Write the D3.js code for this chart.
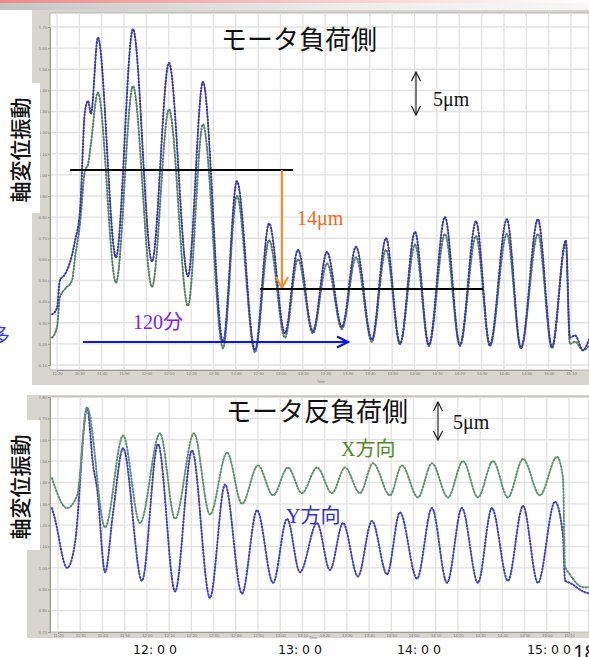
<!DOCTYPE html>
<html><head><meta charset="utf-8">
<script src="https://cdn.jsdelivr.net/npm/d3@7"></script>
<style>
html,body{margin:0;padding:0;background:#fff;overflow:hidden}
svg{display:block}
</style></head><body>
<svg id="c" width="589" height="657"></svg>
<script>
// ---------------- data ----------------
// x tick labels (10-minute steps)
const timeTickLabels = ["11:20","11:30","11:40","11:50","12:00","12:10","12:20","12:30","12:40","12:50",
  "13:00","13:10","13:20","13:30","13:40","13:50","14:00","14:10","14:20","14:30","14:40","14:50","15:00","15:10"];
const topYTickLabels = ["0.10","0.20","0.30","0.40","0.50","0.60","0.70","0.80","0.90","1.00","1.10","1.20","1.30","1.40","1.50","1.60","1.70"];
const botYTickLabels = ["0.70","0.80","0.90","1.00","1.10","1.20","1.30","1.40","1.50","1.60","1.70","1.80"];
const hourLabels = ["12: 0 0","13: 0 0","14: 0 0","15: 0 0"];

// upper panel (minutes after 11:00)
const topTime  = [17.8,20.0,21.3,23.6,26.7,28.1,30.3,32.5,33.9,35.2,38.3,46.4,54.0,62.5,70.1,78.6,85.3,94.3,100.5,108.6,
  114.9,122.0,127.8,134.5,140.8,147.5,153.8,160.9,167.2,173.5,180.2,186.4,193.6,200.3,207.5,213.7,221.3,227.6,235.2,241.5,
  247.7,249.5,251.8,255.4,258.0];
const topBlue  = [0.34,0.37,0.50,0.53,0.62,0.69,0.83,1.30,1.35,1.29,1.65,0.61,1.69,0.59,1.53,0.52,1.44,0.21,0.97,0.17,
  0.77,0.25,0.645,0.26,0.635,0.28,0.66,0.22,0.70,0.20,0.73,0.195,0.80,0.195,0.78,0.195,0.79,0.18,0.79,0.185,
  0.69,0.23,0.24,0.17,0.22];
const topGreen = [0.23,0.28,0.42,0.46,0.50,0.61,0.77,1.02,1.05,1.15,1.39,0.49,1.42,0.47,1.31,0.38,1.24,0.18,0.90,0.16,
  0.69,0.23,0.60,0.25,0.58,0.27,0.61,0.21,0.645,0.20,0.67,0.19,0.72,0.19,0.71,0.19,0.72,0.18,0.72,0.18,
  0.68,0.20,0.21,0.17,0.19];

// lower panel
const botXTime = [17.3,24.1,28.6,33.1,41.2,49.3,56.9,65.9,72.7,81.2,88.4,96.1,102.8,110.0,116.8,123.5,129.8,136.6,143.3,149.2,
  155.9,161.8,169.4,174.8,182.0,188.3,195.5,202.3,209.0,215.8,222.5,229.3,236.9,244.6,247.3,248.2,250.4,256.3,259.0];
const botX     = [1.42,1.28,1.34,1.75,1.19,1.62,1.21,1.63,1.23,1.63,1.25,1.54,1.30,1.48,1.34,1.47,1.35,1.47,1.35,1.47,
  1.35,1.49,1.34,1.48,1.33,1.49,1.33,1.50,1.33,1.50,1.33,1.51,1.34,1.52,1.42,1.01,0.97,0.91,0.91];
const botYTime = [17.3,18.6,24.1,27.7,33.1,35.8,37.6,41.2,44.8,49.3,57.8,65.0,72.7,80.3,88.4,95.2,102.8,109.6,116.8,123.1,
  128.9,136.6,142.4,148.3,155.0,161.3,168.1,173.9,181.6,188.3,195.1,201.8,209.0,215.3,222.5,229.3,236.0,243.7,247.3,248.2,
  250.4,256.3,259.0];
const botY     = [1.28,1.23,1.00,1.12,1.75,1.48,1.37,0.98,1.26,1.56,0.94,1.58,0.89,1.55,0.86,1.39,0.88,1.27,0.93,1.23,
  0.98,1.21,0.99,1.21,0.96,1.22,0.97,1.26,0.95,1.28,0.93,1.28,0.93,1.28,0.94,1.29,0.93,1.31,1.15,0.94,
  0.93,0.89,0.88];

// ---------------- drawing ----------------
const svg = d3.select("#c");
const toMin = s => { const [h,m] = s.split(":").map(Number); return (h-11)*60+m; };
const tickMins = timeTickLabels.map(toMin);
const JP = "'Noto Sans CJK JP','Noto Sans',sans-serif";
const SERIF = "'Liberation Serif','DejaVu Serif','Noto Sans CJK JP',serif";

const defs = svg.append("defs");
const g1 = defs.append("linearGradient").attr("id","bannerPink").attr("x1","0").attr("x2","1");
g1.append("stop").attr("offset","0").attr("stop-color","#f08a8a");
g1.append("stop").attr("offset","0.75").attr("stop-color","#fbe3e3");
g1.append("stop").attr("offset","1").attr("stop-color","#ffffff");
const g2 = defs.append("linearGradient").attr("id","bannerGray").attr("x1","0").attr("x2","1");
g2.append("stop").attr("offset","0").attr("stop-color","#c4c4c4");
g2.append("stop").attr("offset","0.55").attr("stop-color","#ececec");
g2.append("stop").attr("offset","1").attr("stop-color","#f7f7f7");

svg.append("rect").attr("x",0).attr("y",0).attr("width",589).attr("height",3).attr("fill","url(#bannerPink)");
svg.append("rect").attr("x",0).attr("y",3).attr("width",589).attr("height",7).attr("fill","url(#bannerGray)");

function panel(cfg){
  const {frameX, frameY, frameB, plot, x, y, yLabels, series, timeX, timeY} = cfg;
  svg.append("rect").attr("x",frameX).attr("y",frameY).attr("width",589-frameX).attr("height",frameB-frameY).attr("fill","#d8d5cf");
  svg.append("rect").attr("x",plot.l).attr("y",plot.t).attr("width",589-plot.l).attr("height",plot.b-plot.t)
     .attr("fill","#fff").attr("stroke","#a8a8a8").attr("stroke-width",0.8);
  const id = "clip"+plot.t;
  defs.append("clipPath").attr("id",id).append("rect").attr("x",plot.l).attr("y",plot.t).attr("width",589-plot.l).attr("height",plot.b-plot.t);
  const gg = svg.append("g").attr("clip-path",`url(#${id})`);
  gg.append("g").selectAll("line").data(tickMins).join("line")
    .attr("x1",d=>x(d)).attr("x2",d=>x(d)).attr("y1",plot.t).attr("y2",plot.b)
    .attr("stroke","#e2e2e2").attr("stroke-width",1.3);
  gg.append("g").selectAll("line").data(yLabels.map(Number)).join("line")
    .attr("x1",plot.l).attr("x2",589).attr("y1",d=>y(d)).attr("y2",d=>y(d))
    .attr("stroke","#e2e2e2").attr("stroke-width",1.3);
  series.forEach(s=>{
    const line = d3.line().x((d,i)=>x(s.t[i])).y(d=>y(d)).curve(d3.curveMonotoneX);
    gg.append("path").attr("d",line(s.v)).attr("fill","none").attr("stroke",s.c1).attr("stroke-width",1);
    gg.append("path").attr("d",line(s.v)).attr("fill","none").attr("stroke",s.c2).attr("stroke-width",2)
      .attr("stroke-dasharray","1,2.2").attr("stroke-linecap","round");
  });
  const ax = svg.append("g").attr("transform",`translate(0,${plot.b})`)
    .call(d3.axisBottom(x).tickValues(tickMins).tickFormat((d,i)=>timeTickLabels[i]).tickSize(1.5).tickPadding(0.5));
  ax.select(".domain").attr("stroke","#999");
  ax.selectAll("line").attr("stroke","#999");
  ax.selectAll("text").attr("font-size",4.2).attr("fill","#7a7a7a").attr("font-family","Arial, sans-serif");
  const ay = svg.append("g").attr("transform",`translate(${plot.l},0)`)
    .call(d3.axisLeft(y).tickValues(yLabels.map(Number)).tickFormat((d,i)=>yLabels[i]).tickSize(2).tickPadding(1));
  ay.select(".domain").attr("stroke","#999");
  ay.selectAll("line").attr("stroke","#999");
  ay.selectAll("text").attr("font-size",4.2).attr("fill","#7a7a7a").attr("font-family","Arial, sans-serif");
  svg.append("text").attr("x",timeX).attr("y",timeY).attr("font-size",3.6).attr("fill","#777").attr("font-family","Arial").text("Time");
}

const xTop = d3.scaleLinear().domain([20,250]).range([57,571]);
const yTop = d3.scaleLinear().domain([0.1,1.7]).range([365,27]);
const xBot = d3.scaleLinear().domain([20,250]).range([58,569]);
const yBot = d3.scaleLinear().domain([0.7,1.8]).range([632,397]);

panel({frameX:32, frameY:10, frameB:385, plot:{l:50,t:13,b:370}, x:xTop, y:yTop, yLabels:topYTickLabels, timeX:317, timeY:382.5,
  series:[
    {t:topTime, v:topGreen, c1:"#a3c4ae", c2:"#557f63"},
    {t:topTime, v:topBlue,  c1:"#9090d6", c2:"#3838a8"}
  ]});
panel({frameX:27, frameY:395, frameB:638, plot:{l:50,t:397,b:632}, x:xBot, y:yBot, yLabels:botYTickLabels, timeX:309, timeY:638.5,
  series:[
    {t:botYTime, v:botY, c1:"#9898de", c2:"#4040bc"},
    {t:botXTime, v:botX, c1:"#a6c8b2", c2:"#5e8f70"}
  ]});

// label boxes and vertical labels
svg.append("rect").attr("x",0).attr("y",83).attr("width",40).attr("height",130).attr("fill","#fff");
svg.append("rect").attr("x",0).attr("y",420).attr("width",40).attr("height",130).attr("fill","#fff");
svg.append("text").attr("transform","translate(28,150) rotate(-90)").attr("text-anchor","middle")
  .attr("font-family",JP).attr("font-size",21).attr("font-weight",500).attr("fill","#111").text("軸変位振動");
svg.append("text").attr("transform","translate(28,487) rotate(-90)").attr("text-anchor","middle")
  .attr("font-family",JP).attr("font-size",21).attr("font-weight",500).attr("fill","#111").text("軸変位振動");

// titles
svg.append("text").attr("x",221).attr("y",49).attr("font-family",JP).attr("font-size",26).attr("fill","#111").text("モータ負荷側");
svg.append("text").attr("x",226).attr("y",421).attr("font-family",JP).attr("font-size",26).attr("fill","#111").text("モータ反負荷側");

// double arrows + 5um
function dblArrow(xx,y1,y2){
  svg.append("line").attr("x1",xx).attr("x2",xx).attr("y1",y1).attr("y2",y2).attr("stroke","#111").attr("stroke-width",1.1);
  svg.append("path").attr("d",`M${xx-4.5},${y1+9}L${xx},${y1}L${xx+4.5},${y1+9}M${xx-4.5},${y2-9}L${xx},${y2}L${xx+4.5},${y2-9}`)
    .attr("fill","none").attr("stroke","#111").attr("stroke-width",1.1);
}
dblArrow(416,72,115);
svg.append("text").attr("x",433).attr("y",106).attr("font-family",SERIF).attr("font-size",20).attr("fill","#111").text("5μm");
dblArrow(438,402,440);
svg.append("text").attr("x",453).attr("y",429).attr("font-family",SERIF).attr("font-size",20).attr("fill","#111").text("5μm");

// upper annotations
svg.append("line").attr("x1",70).attr("x2",293).attr("y1",170).attr("y2",170).attr("stroke","#000").attr("stroke-width",2);
svg.append("line").attr("x1",282).attr("x2",282).attr("y1",170).attr("y2",288).attr("stroke","#f5921e").attr("stroke-width",2);
svg.append("path").attr("d","M276,277L282,288L288,277").attr("fill","none").attr("stroke","#f5921e").attr("stroke-width",2);
svg.append("line").attr("x1",260).attr("x2",483).attr("y1",289).attr("y2",289).attr("stroke","#000").attr("stroke-width",2);
svg.append("text").attr("x",297).attr("y",225).attr("font-family",SERIF).attr("font-size",20).attr("fill","#f26a1b").text("14μm");
svg.append("line").attr("x1",83).attr("x2",348).attr("y1",342).attr("y2",342).attr("stroke","#0a14f0").attr("stroke-width",2.2);
svg.append("path").attr("d","M337,336.5L348,342L337,347.5").attr("fill","none").attr("stroke","#0a14f0").attr("stroke-width",2.2);
svg.append("text").attr("x",133).attr("y",329).attr("font-family",SERIF).attr("font-size",20).attr("fill","#7b22ee").text("120分");
svg.append("text").attr("x",-10).attr("y",343).attr("font-family",JP).attr("font-size",20).attr("fill","#3b3bdc").text("多");

// lower annotations
svg.append("text").attr("x",341).attr("y",456).attr("font-family",SERIF).attr("font-size",20).attr("fill","#4f8a26").text("X方向");
svg.append("text").attr("x",286).attr("y",523).attr("font-family",SERIF).attr("font-size",20).attr("fill","#2b2be8").text("Y方向");

// hour labels
const hourX = [133,278,397,527];
svg.append("g").selectAll("text").data(hourLabels).join("text")
  .attr("x",(d,i)=>hourX[i]).attr("y",654).attr("font-family","'DejaVu Sans',sans-serif").attr("font-size",12.5).attr("fill","#111").text(d=>d);
svg.append("text").attr("x",573).attr("y",659).attr("font-family","'Noto Sans',sans-serif").attr("font-size",20).attr("fill","#111").text("18");
</script>
</body></html>
